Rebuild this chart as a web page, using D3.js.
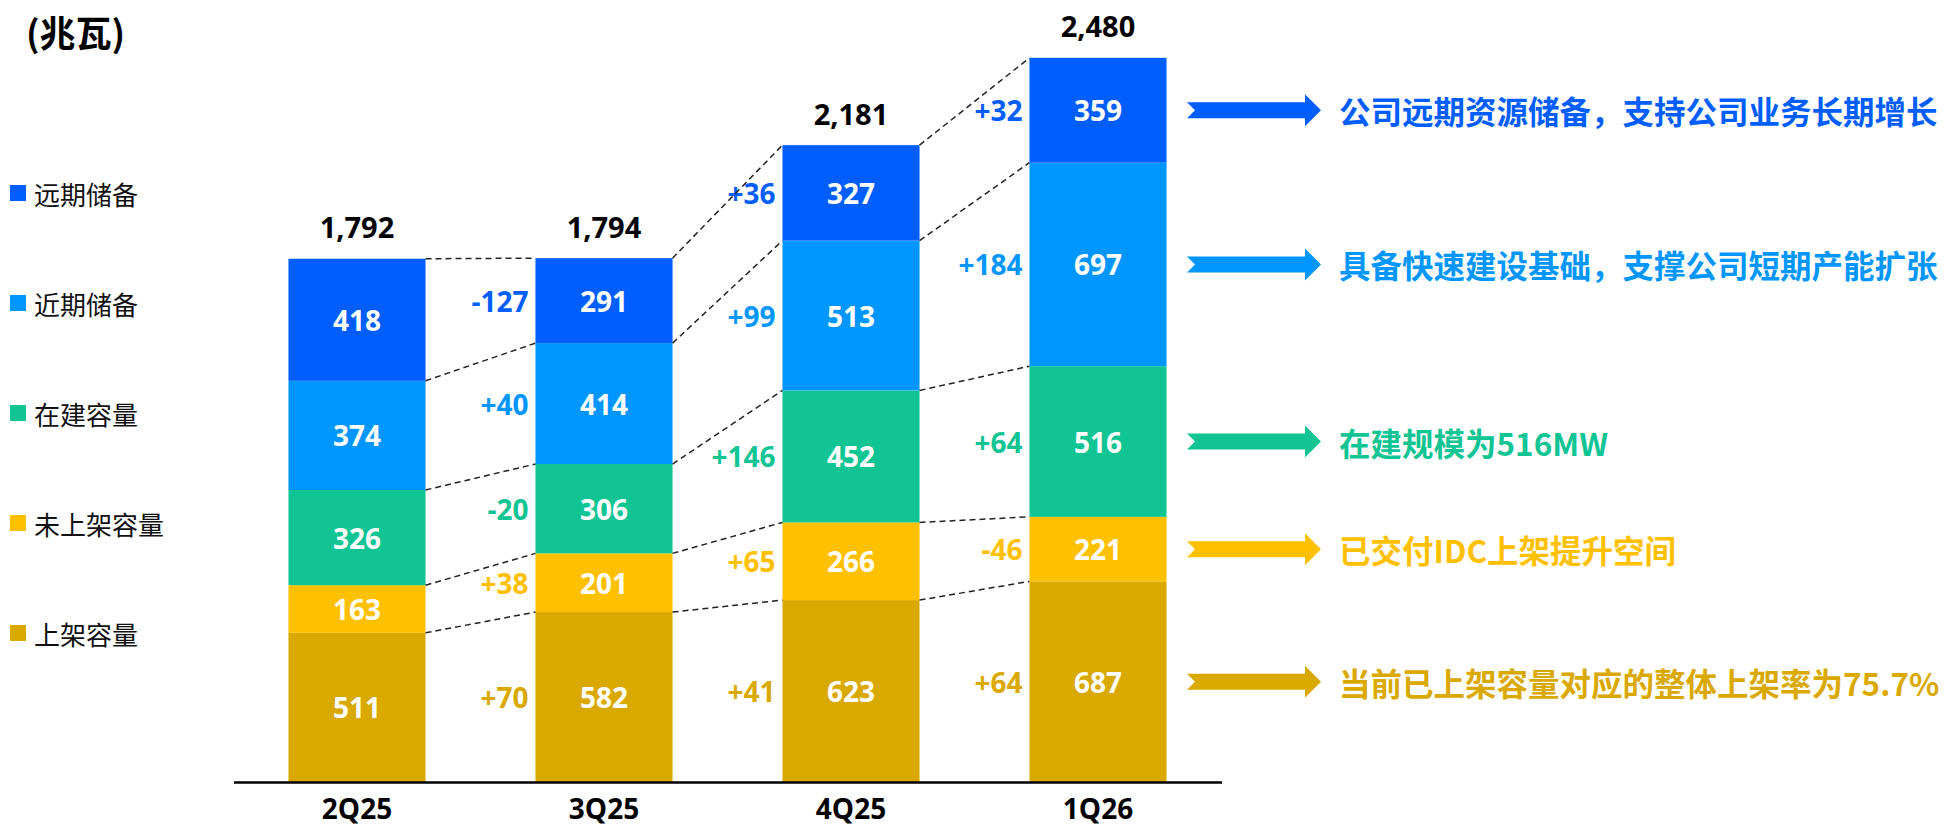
<!DOCTYPE html>
<html>
<head>
<meta charset="utf-8">
<script src="https://cdn.jsdelivr.net/npm/d3@7"></script>
<style>
  body { margin: 0; background: #fff; }
  svg text { font-family: "Open Sans", "Noto Sans CJK SC", sans-serif; }
</style>
</head>
<body>
<svg></svg>
<script>
var quarters = ["2Q25", "3Q25", "4Q25", "1Q26"];

// bottom to top
var seriesNames = ["上架容量", "未上架容量", "在建容量", "近期储备", "远期储备"];
var seriesColors = ["#DAA900", "#FFC000", "#10C493", "#0096FF", "#005EFF"];

var shelved   = [511, 582, 623, 687];
var unshelved = [163, 201, 266, 221];
var building  = [326, 306, 452, 516];
var nearRes   = [374, 414, 513, 697];
var farRes    = [418, 291, 327, 359];
var totals    = [1792, 1794, 2181, 2480];

// changes vs previous quarter, as printed
var dShelved   = [null, "+70", "+41", "+64"];
var dUnshelved = [null, "+38", "+65", "-46"];
var dBuilding  = [null, "-20", "+146", "+64"];
var dNearRes   = [null, "+40", "+99", "+184"];
var dFarRes    = [null, "-127", "+36", "+32"];

var notes = [
  "当前已上架容量对应的整体上架率为75.7%",
  "已交付IDC上架提升空间",
  "在建规模为516MW",
  "具备快速建设基础，支撑公司短期产能扩张",
  "公司远期资源储备，支持公司业务长期增长"
];

var values = [shelved, unshelved, building, nearRes, farRes];
var deltas = [dShelved, dUnshelved, dBuilding, dNearRes, dFarRes];

var svgWidth = 1952,
    svgHeight = 833;

var svg = d3.select("svg")
    .attr("width", svgWidth)
    .attr("height", svgHeight);

var x = d3.scaleBand()
    .domain(quarters)
    .range([233.5, 1221.5])
    .paddingInner(0.445)
    .paddingOuter(0.2225);

var y = d3.scaleLinear()
    .domain([0, 2500])
    .range([782, 52]);

// stack rows: one object per quarter
var rows = quarters.map(function (q, i) {
    var r = {q: q};
    seriesNames.forEach(function (s, k) { r[s] = values[k][i]; });
    return r;
});
var stacked = d3.stack().keys(seriesNames)(rows);

// bars
var layers = svg.selectAll("g.layer")
    .data(stacked)
    .enter()
    .append("g")
    .attr("fill", function (d, k) { return seriesColors[k]; });

layers.selectAll("rect")
    .data(function (d) { return d; })
    .enter()
    .append("rect")
    .attr("x", function (d) { return x(d.data.q); })
    .attr("width", x.bandwidth())
    .attr("y", function (d) { return y(d[1]); })
    .attr("height", function (d) { return y(d[0]) - y(d[1]); });

// segment values
stacked.forEach(function (layer, k) {
    svg.selectAll(null)
        .data(layer)
        .enter()
        .append("text")
        .attr("x", function (d) { return x(d.data.q) + x.bandwidth() / 2; })
        .attr("y", function (d) { return (y(d[0]) + y(d[1])) / 2; })
        .attr("text-anchor", "middle")
        .attr("dominant-baseline", "central")
        .attr("font-size", 28)
        .attr("font-weight", "bold")
        .attr("fill", "#fff")
        .text(function (d) { return d[1] - d[0]; });

    // deltas left of bar
    svg.selectAll(null)
        .data(layer.filter(function (d, i) { return deltas[k][i] != null; }))
        .enter()
        .append("text")
        .attr("x", function (d) { return x(d.data.q) - 7; })
        .attr("y", function (d) { return (y(d[0]) + y(d[1])) / 2; })
        .attr("text-anchor", "end")
        .attr("dominant-baseline", "central")
        .attr("font-size", 28)
        .attr("font-weight", "bold")
        .attr("fill", seriesColors[k])
        .text(function (d) { return deltas[k][quarters.indexOf(d.data.q)]; });

    // dashed connectors between segment tops
    for (var i = 0; i < quarters.length - 1; i++) {
        svg.append("line")
            .attr("x1", x(quarters[i]) + x.bandwidth())
            .attr("y1", y(layer[i][1]))
            .attr("x2", x(quarters[i + 1]))
            .attr("y2", y(layer[i + 1][1]))
            .attr("stroke", "#222")
            .attr("stroke-width", 1.5)
            .attr("stroke-dasharray", "6,4");
    }
});

// totals
svg.selectAll("text.total")
    .data(totals)
    .enter()
    .append("text")
    .attr("class", "total")
    .attr("x", function (d, i) { return x(quarters[i]) + x.bandwidth() / 2; })
    .attr("y", function (d) { return y(d) - 32; })
    .attr("text-anchor", "middle")
    .attr("dominant-baseline", "central")
    .attr("font-size", 29)
    .attr("font-weight", "bold")
    .attr("fill", "#000")
    .text(function (d) { return d3.format(",")(d); });

// x axis
var axis = svg.append("g")
    .attr("transform", "translate(0," + y(0) + ")")
    .call(d3.axisBottom(x).tickSize(0).tickSizeOuter(0).tickPadding(17));
axis.select(".domain").attr("stroke", "#000").attr("stroke-width", 2.5);
axis.selectAll("text")
    .attr("font-size", 28)
    .attr("font-weight", "bold")
    .attr("fill", "#000")
    .style("font-family", "'Open Sans', 'Noto Sans CJK SC', sans-serif");

// unit title
svg.append("text")
    .attr("x", 26)
    .attr("y", 31)
    .attr("dominant-baseline", "central")
    .attr("font-size", 36)
    .attr("font-weight", "bold")
    .style("font-family", "'Noto Sans CJK SC', sans-serif")
    .text("(兆瓦)");

// legend, top to bottom
var legendOrder = d3.range(seriesNames.length).reverse();
var legend = svg.selectAll("g.legend")
    .data(legendOrder)
    .enter()
    .append("g")
    .attr("transform", function (k, j) { return "translate(10," + (193 + j * 110) + ")"; });

legend.append("rect")
    .attr("x", 0)
    .attr("y", -8)
    .attr("width", 16)
    .attr("height", 16)
    .attr("fill", function (k) { return seriesColors[k]; });

legend.append("text")
    .attr("x", 24)
    .attr("y", 0)
    .attr("dominant-baseline", "central")
    .attr("font-size", 26)
    .style("font-family", "'Noto Sans CJK SC', sans-serif")
    .attr("fill", "#111")
    .text(function (k) { return seriesNames[k]; });

// notes with arrows, aligned to last bar's segments
stacked.forEach(function (layer, k) {
    var d = layer[layer.length - 1];
    var cy = (y(d[0]) + y(d[1])) / 2;
    var x0 = 1187, x1 = 1321, head = 16;
    var pts = [
        [x0, cy - 8], [x1 - head, cy - 8], [x1 - head, cy - 16],
        [x1, cy], [x1 - head, cy + 16], [x1 - head, cy + 8],
        [x0, cy + 8], [x0 + 8, cy]
    ];
    svg.append("polygon")
        .attr("points", pts.map(function (p) { return p.join(","); }).join(" "))
        .attr("fill", seriesColors[k]);

    svg.append("text")
        .attr("x", 1339)
        .attr("y", cy)
        .attr("dominant-baseline", "central")
        .attr("font-size", 31.5)
        .attr("font-weight", "bold")
        .style("font-family", "'Noto Sans CJK SC', sans-serif")
        .attr("fill", seriesColors[k])
        .text(notes[k]);
});
</script>
</body>
</html>
